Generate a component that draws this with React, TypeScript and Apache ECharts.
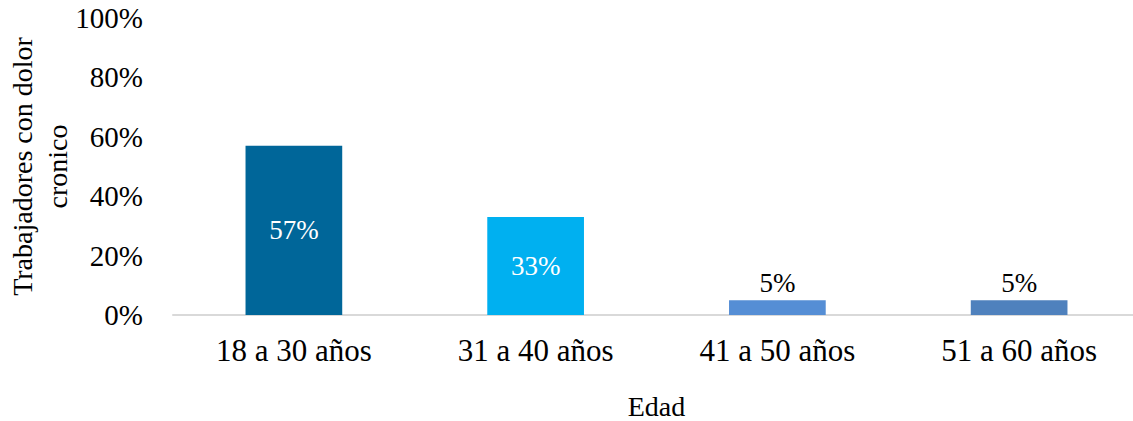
import React, { useEffect, useRef } from "react";
import * as echarts from "echarts";

const categories = ["18 a 30 años", "31 a 40 años", "41 a 50 años", "51 a 60 años"];
const values = [57, 33, 5, 5];
const barColors = ["#006699", "#00b0f0", "#558ed5", "#4f81bd"];
const labelInside = [true, true, false, false];
const yTicks = { min: 0, max: 100, interval: 20 };
const xTitle = "Edad";
const yTitle = "Trabajadores con dolor\ncronico";

const FONT = "'Liberation Serif', 'Times New Roman', serif";

export default function App() {
  const ref = useRef<HTMLDivElement>(null);
  useEffect(() => {
    if (!ref.current) return;
    const chart = echarts.init(ref.current, null, { renderer: "svg" });
    chart.setOption({
      animation: false,
      backgroundColor: "#ffffff",
      textStyle: { fontFamily: FONT, color: "#000" },
      grid: {
        left: 173,
        right: -7,
        top: 18,
        bottom: 106,
        containLabel: false,
        outerBoundsMode: "none",
      },
      xAxis: {
        type: "category",
        data: categories,
        axisLine: { show: true, lineStyle: { color: "#d9d9d9", width: 2 } },
        axisTick: { show: false },
        axisLabel: { fontFamily: FONT, fontSize: 31, color: "#000", margin: 20 },
        name: xTitle,
        nameLocation: "middle",
        nameGap: 77,
        nameMoveOverlap: false,
        nameTextStyle: { fontFamily: FONT, fontSize: 28, color: "#000" },
      },
      yAxis: {
        type: "value",
        min: yTicks.min,
        max: yTicks.max,
        interval: yTicks.interval,
        axisLine: { show: false },
        axisTick: { show: false },
        splitLine: { show: false },
        axisLabel: {
          fontFamily: FONT,
          fontSize: 29,
          color: "#000",
          margin: 30,
          formatter: "{value}%",
          verticalAlign: "middle",
        },
        name: yTitle,
        nameLocation: "middle",
        nameRotate: 90,
        nameGap: 98,
        nameMoveOverlap: false,
        nameTextStyle: { fontFamily: FONT, fontSize: 28, color: "#000", lineHeight: 35 },
      },
      series: [
        {
          type: "bar",
          barWidth: "40%",
          data: values.map((v, i) => ({
            value: v,
            itemStyle: { color: barColors[i] },
            label: {
              show: true,
              position: labelInside[i] ? "inside" : "top",
              distance: 4,
              color: labelInside[i] ? "#ffffff" : "#000000",
              fontFamily: FONT,
              fontSize: 27,
              formatter: "{c}%",
            },
          })),
        },
      ],
    });
    return () => chart.dispose();
  }, []);
  return (
    <div
      ref={ref}
      style={{ position: "fixed", left: 0, top: 0, width: 1133, height: 421, background: "#fff" }}
    />
  );
}
